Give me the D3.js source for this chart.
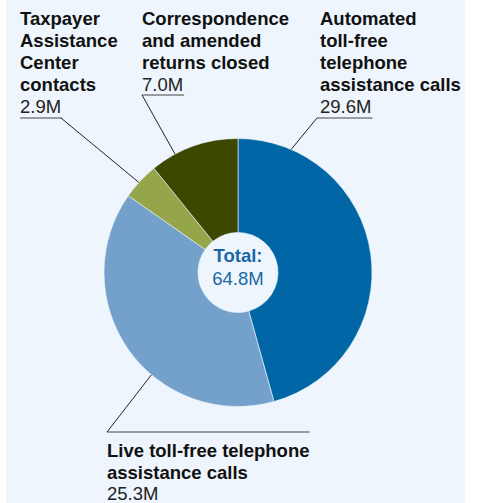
<!DOCTYPE html>
<html><head><meta charset="utf-8">
<script src="https://cdn.jsdelivr.net/npm/d3@7"></script>
<style>
html,body{margin:0;padding:0;background:#fff;}
svg{display:block;font-family:"Liberation Sans",Arial,sans-serif;}
</style></head>
<body>
<svg id="chart" width="478" height="503"></svg>
<script>
// ---- data ----
const categories = ["Automated toll-free telephone assistance calls",
                    "Live toll-free telephone assistance calls",
                    "Taxpayer Assistance Center contacts",
                    "Correspondence and amended returns closed"];
const values = [29.6, 25.3, 2.9, 7.0];
const valueLabels = ["29.6M", "25.3M", "2.9M", "7.0M"];
const totalLabel = ["Total:", "64.8M"];
const colors = ["#0066a6", "#74a1cb", "#94a54a", "#3c4700"];

// ---- layout ----
const W = 478, H = 503;
const bg = "#eef5fc";
const cx = 238, cy = 272.5, rOuter = 134, rInner = 40;
const fs = 18.5, lh = 22.2;

const svg = d3.select("#chart");
svg.append("rect").attr("x", 6).attr("y", 0).attr("width", 459).attr("height", H).attr("fill", bg);

const pie = d3.pie().sort(null).value(d => d.v);
const arcs = pie(values.map((v, i) => ({v, i})));
const arc = d3.arc().innerRadius(rInner).outerRadius(rOuter);

const g = svg.append("g").attr("transform", `translate(${cx},${cy})`);
g.selectAll("path").data(arcs).join("path")
  .attr("d", arc)
  .attr("fill", d => colors[d.data.i])
  .attr("stroke", bg).attr("stroke-width", 0.6);

// center text
g.append("text").attr("text-anchor", "middle").attr("y", -10.5)
  .attr("font-size", fs).attr("font-weight", "bold").attr("fill", "#1a67a6").text(totalLabel[0]);
g.append("text").attr("text-anchor", "middle").attr("y", 12.5)
  .attr("font-size", fs).attr("fill", "#1a67a6").text(totalLabel[1]);

// label layout: lines, text x, first baseline, anchor fraction within slice, underline y
const layout = [
  {lines: ["Automated", "toll-free", "telephone", "assistance calls"], x: 320, y0: 24.5, frac: 0.142, ux: 317, uy: 118, top: true},
  {lines: ["Live toll-free telephone", "assistance calls"], x: 107, y0: 457, frac: 0.397, ux: 107, uy: 432, top: false},
  {lines: ["Taxpayer", "Assistance", "Center", "contacts"], x: 20, y0: 24.5, frac: 0.45, ux: 61, uy: 118, top: true},
  {lines: ["Correspondence", "and amended", "returns closed"], x: 142, y0: 24.5, frac: 0.28, ux: 142, uy: 95, top: true}
];

arcs.forEach((a, k) => {
  const i = a.data.i, L = layout[i];
  const t = svg.append("text").attr("font-size", fs).attr("fill", "#111");
  L.lines.forEach((ln, j) => {
    t.append("tspan").attr("x", L.x).attr("y", L.y0 + j * (L.top ? lh : 21.5))
      .attr("font-weight", "bold").text(ln);
  });
  const vy = L.y0 + L.lines.length * (L.top ? lh : 21.5);
  const vt = svg.append("text").attr("x", L.x).attr("y", vy)
    .attr("font-size", fs).attr("fill", "#222").text(valueLabels[i]);
  // underline extent
  let x1, x2;
  if (L.top) {
    const w = vt.node().getComputedTextLength();
    x1 = Math.min(L.ux, L.x); x2 = Math.max(L.ux, L.x + w + 1);
  } else {
    const w = t.select("tspan").node().getComputedTextLength();
    x1 = L.ux; x2 = L.x + w;
  }
  svg.append("line").attr("x1", x1).attr("x2", x2).attr("y1", L.uy).attr("y2", L.uy)
    .attr("stroke", "#444").attr("stroke-width", 1.2);
  const ang = a.startAngle + L.frac * (a.endAngle - a.startAngle);
  const px = cx + rOuter * Math.sin(ang), py = cy - rOuter * Math.cos(ang);
  svg.append("line").attr("x1", L.ux).attr("y1", L.uy).attr("x2", px).attr("y2", py)
    .attr("stroke", "#222").attr("stroke-width", 1);
});
</script>
</body></html>
